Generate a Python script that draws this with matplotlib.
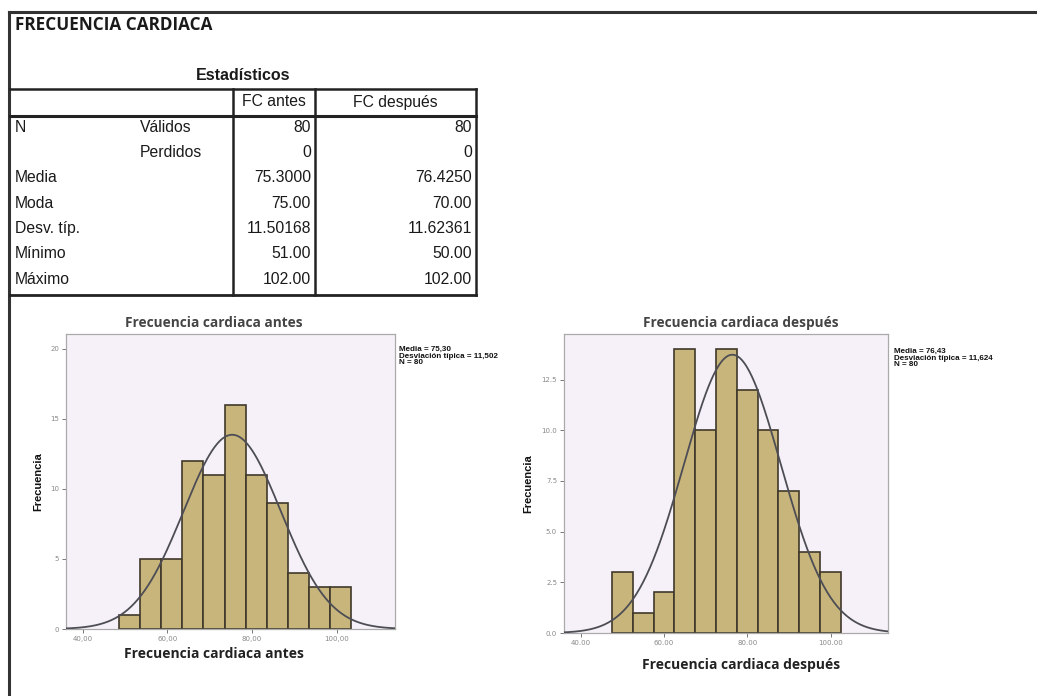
import numpy as np
from matplotlib import pyplot as plt

# Tabla de estadisticos
filas = ["N", "", "Media", "Moda", "Desv. típ.", "Mínimo", "Máximo"]
subfilas = ["Válidos", "Perdidos", "", "", "", "", ""]
fc_antes_txt = ["80", "0", "75.3000", "75.00", "11.50168", "51.00", "102.00"]
fc_despues_txt = ["80", "0", "76.4250", "70.00", "11.62361", "50.00", "102.00"]

# Histogramas (clases de 5 lpm)
centros_antes = [51, 56, 61, 66, 71, 76, 81, 86, 91, 96, 101]
cuentas_antes = [1, 5, 5, 12, 11, 16, 11, 9, 4, 3, 3]
centros_despues = [50, 55, 60, 65, 70, 75, 80, 85, 90, 95, 100]
cuentas_despues = [3, 1, 2, 14, 10, 14, 12, 10, 7, 4, 3]
media_antes, sd_antes = 75.30, 11.502
media_despues, sd_despues = 76.425, 11.624
n = 80
ancho = 5

W, H = 1037, 696
fig = plt.figure(figsize=(W / 100, H / 100), dpi=100)
fig.patch.set_facecolor("white")

# capa de fondo en pixeles para el marco y la tabla
bg = fig.add_axes([0, 0, 1, 1])
bg.set_xlim(0, W)
bg.set_ylim(H, 0)
bg.axis("off")

negro = "#1a1a1a"
bg.plot([9, W], [12, 12], color="#333", lw=2.2)
bg.plot([9, 9], [12, H], color="#333", lw=2.2)
bg.text(15, 25, "FRECUENCIA CARDIACA", fontsize=12.3, fontweight="bold",
        family="Open Sans", va="center", color=negro)
bg.text(243, 76, "Estadísticos", fontsize=11.5, fontweight="bold",
        family="Liberation Sans", va="center", ha="center", color=negro)

# bordes de la tabla
bg.plot([10, 476], [89, 89], color="#222", lw=1.8)
bg.plot([10, 476], [116, 116], color="#222", lw=2.2)
bg.plot([10, 476], [295, 295], color="#222", lw=2.0)
for xc in [233, 315, 476]:
    bg.plot([xc, xc], [89, 295], color="#222", lw=1.8)

fuente = dict(fontsize=11.3, family="Liberation Sans", va="center", color=negro)
bg.text(274, 102, "FC antes", ha="center", **fuente)
bg.text(395, 102, "FC después", ha="center", **fuente)
for i in range(len(filas)):
    y = 127 + i * 25.4
    bg.text(15, y, filas[i], ha="left", **fuente)
    bg.text(140, y, subfilas[i], ha="left", **fuente)
    bg.text(311, y, fc_antes_txt[i], ha="right", **fuente)
    bg.text(472, y, fc_despues_txt[i], ha="right", **fuente)

color_barra = "#c8b57c"
color_fondo = "#f6f1f8"


def histograma(pos, centros, cuentas, media, sd, ymax, yticks, ytxt, xtxt,
               titulo, tit_x, xlab_y, stats, stats_pos, ylab_x):
    ax = fig.add_axes(pos)
    ax.set_facecolor(color_fondo)
    ax.bar(centros, cuentas, width=ancho, color=color_barra,
           edgecolor="#40392b", linewidth=1.2, zorder=2)
    xs = np.linspace(35, 115, 400)
    ys = n * ancho / (sd * np.sqrt(2 * np.pi)) * np.exp(-0.5 * ((xs - media) / sd) ** 2)
    ax.plot(xs, ys, color="#4d4d55", lw=1.3, zorder=3)
    ax.set_xlim(36, 113.8)
    ax.set_ylim(0, ymax)
    ax.set_xticks([40, 60, 80, 100])
    ax.set_xticklabels(xtxt, fontsize=5, color="#888")
    ax.set_yticks(yticks)
    ax.set_yticklabels(ytxt, fontsize=5, color="#888")
    ax.tick_params(length=3, width=0.7, color="#777", pad=2)
    for s in ax.spines.values():
        s.set_color("#aaaaaa")
        s.set_linewidth(0.9)
    ax.text(tit_x, 1 + 11 / (pos[3] * H), titulo, transform=ax.transAxes,
            ha="center", va="center", fontsize=9.8, fontweight="bold",
            family="Open Sans", color="#444")
    ax.set_xlabel(titulo, fontsize=10, fontweight="bold", family="Open Sans",
                  color="#222")
    ax.xaxis.set_label_coords(tit_x, xlab_y)
    fig.text(ylab_x, pos[1] + pos[3] / 2, "Frecuencia", rotation=90,
             fontsize=8, fontweight="bold", family="Liberation Sans",
             ha="center", va="center", color="#111")
    fig.text(stats_pos[0], stats_pos[1], stats, fontsize=5.8, family="Liberation Sans",
             fontweight="bold", ha="left", va="top", color="#111",
             linespacing=0.9)
    return ax


histograma([66 / W, 1 - 629 / H, 329 / W, 295 / H], centros_antes, cuentas_antes,
           media_antes, sd_antes, 21.07, [0, 5, 10, 15, 20],
           ["0", "5", "10", "15", "20"],
           ["40,00", "60,00", "80,00", "100,00"],
           "Frecuencia cardiaca antes", 0.45, -0.062,
           "Media = 75,30\nDesviación típica = 11,502\nN = 80",
           (399 / W, 1 - 346 / H), 38 / W)

histograma([564 / W, 1 - 633 / H, 324 / W, 299 / H], centros_despues, cuentas_despues,
           media_despues, sd_despues, 14.75, [0, 2.5, 5, 7.5, 10, 12.5],
           ["0.0", "2.5", "5.0", "7.5", "10.0", "12.5"],
           ["40.00", "60.00", "80.00", "100.00"],
           "Frecuencia cardiaca después", 0.545, -0.085,
           "Media = 76,43\nDesviación típica = 11,624\nN = 80",
           (894 / W, 1 - 348 / H), 528 / W)

fig.savefig("out.png", dpi=100)
